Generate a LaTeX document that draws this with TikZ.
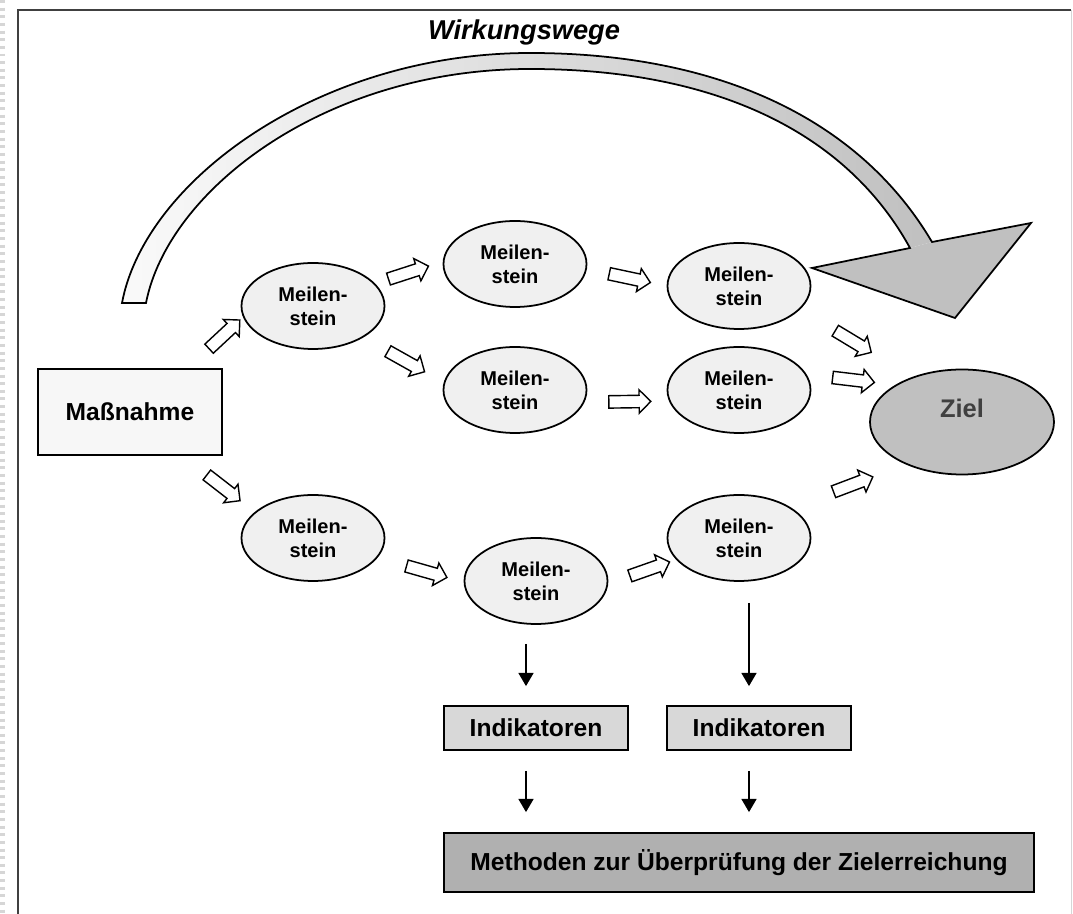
\documentclass[tikz,border=0pt]{standalone}
\usepackage{fontspec}
\setmainfont{Liberation Sans}
\usetikzlibrary{arrows.meta,positioning,shapes.geometric,shapes.arrows}
\definecolor{msgrau}{RGB}{240,240,240}
\definecolor{zielgrau}{RGB}{192,192,192}
\definecolor{indgrau}{RGB}{216,216,216}
\definecolor{methgrau}{RGB}{176,176,176}
\definecolor{rahmengrau}{RGB}{64,64,64}
\definecolor{randgrau}{RGB}{214,214,214}

\tikzset{
  meilenstein/.style={ellipse, draw, fill=msgrau, line width=1pt, minimum width=2.86cm, minimum height=1.72cm, inner sep=0pt, align=center, font=\fontsize{11.4}{13.8}\selectfont\bfseries},
  kasten/.style={rectangle, draw, line width=1pt, inner sep=0pt, font=\fontsize{14}{16}\selectfont\bfseries},
  hohlpfeil/.style={single arrow, draw, fill=white, line width=0.8pt, minimum height=0.84cm, inner xsep=0pt, inner ysep=0.11cm, single arrow head extend=0.11cm, sloped},
  pfeil/.style={-{Triangle[width=8.5pt,length=7.5pt]}, line width=1pt},
}
\newcommand{\wegpfeil}[3]{\path (#1) -- (#2) node[hohlpfeil, pos=#3] {};}

\begin{document}
\begin{tikzpicture}[x=0.2mm, y=-0.2mm]
\useasboundingbox (0,0) rectangle (1073,914);
% Rahmen
\draw[randgrau, line width=2.8pt, dash pattern=on 1.7pt off 2.65pt] (2.5,0) -- (2.5,914);
\draw[rahmengrau, line width=1.4pt] (18,914) -- (18,10) -- (1071,10);
\draw[randgrau, line width=0.6pt] (1071.5,10) -- (1071.5,914);

% Wirkungswege -- grosser Bogenpfeil
\node[font=\fontsize{15.5}{18}\selectfont\bfseries\itshape] (titel) at (524,32) {Wirkungswege};
\fill[zielgrau] (910,248) -- (812,268) -- (955,318) -- (1031,223) -- (932,242) -- cycle;
\shade[left color=white!98!black, right color=zielgrau] (122,303) .. controls (145,180) and (320,53) .. (530,53) .. controls (720,53) and (860,120) .. (932,242) -- (910,248) .. controls (845,130) and (712,69) .. (530,69) .. controls (325,69) and (168,190) .. (146,303) -- cycle;
\draw[line width=1pt, line join=miter] (122,303) .. controls (145,180) and (320,53) .. (530,53) .. controls (720,53) and (860,120) .. (932,242) -- (1031,223) -- (955,318) -- (812,268) -- (910,248) .. controls (845,130) and (712,69) .. (530,69) .. controls (325,69) and (168,190) .. (146,303) -- cycle;

% Massnahme, Meilensteine, Ziel
\node[kasten, fill=white!97!black, minimum width=3.68cm, minimum height=1.72cm] (mass) at (130,412) {Maßnahme};
\node[meilenstein] (m1) at (313,306) {Meilen-\\stein};
\node[meilenstein] (m2) at (515,264) {Meilen-\\stein};
\node[meilenstein] (m3) at (515,390) {Meilen-\\stein};
\node[meilenstein] (m4) at (739,286) {Meilen-\\stein};
\node[meilenstein] (m5) at (739,390) {Meilen-\\stein};
\node[meilenstein] (m6) at (313,538) {Meilen-\\stein};
\node[meilenstein] (m7) at (536,581) {Meilen-\\stein};
\node[meilenstein] (m8) at (739,538) {Meilen-\\stein};
\node[ellipse, draw, fill=zielgrau, line width=1pt, minimum width=3.68cm, minimum height=2.1cm,
  label={[font=\fontsize{14.5}{16}\selectfont\bfseries, text=black!75, yshift=0.28cm]center:Ziel}] (ziel) at (962,422) {};

% Indikatoren und Methoden
\node[kasten, fill=indgrau, minimum width=3.68cm, minimum height=0.88cm] (ind1) at (536,728) {Indikatoren};
\node[kasten, fill=indgrau, minimum width=3.68cm, minimum height=0.88cm] (ind2) at (759,728) {Indikatoren};
\node[kasten, fill=methgrau, minimum width=11.8cm, minimum height=1.18cm] (meth) at (739,862.5) {Methoden zur Überprüfung der Zielerreichung};

% Hohlpfeile
\wegpfeil{mass.37.5}{m1.189.5}{0.62}
\wegpfeil{mass.320.4}{m6.156.7}{0.535}
\wegpfeil{m1.20.2}{m2.178.6}{0.45}
\wegpfeil{m1.328.4}{m3.174.4}{0.5}
\wegpfeil{m2.356.8}{m4.180}{0.5}
\wegpfeil{m3.350.1}{m5.189.9}{0.5}
\wegpfeil{m4.339.3}{ziel.138.8}{0.451}
\wegpfeil{m5.13.1}{ziel.151.3}{0.495}
\wegpfeil{m6.343}{m7.181.3}{0.536}
\wegpfeil{m7.358}{m8.199.3}{0.568}
\wegpfeil{m8.30.9}{ziel.217}{0.515}

% Pfeile zu den Indikatoren
\draw[pfeil, shorten <=0.38cm, shorten >=0.38cm] ([xshift=-0.2cm]m7.south) -- ([xshift=-0.2cm]ind1.north);
\draw[pfeil, shorten <=0.42cm, shorten >=0.38cm] ([xshift=0.2cm]m8.south) -- ([xshift=-0.2cm]ind2.north);
\draw[pfeil, shorten <=0.4cm, shorten >=0.4cm] ([xshift=-0.2cm]ind1.south) -- ([xshift=-0.2cm]ind1.south |- meth.north);
\draw[pfeil, shorten <=0.4cm, shorten >=0.4cm] ([xshift=-0.2cm]ind2.south) -- ([xshift=-0.2cm]ind2.south |- meth.north);
\end{tikzpicture}
\end{document}
